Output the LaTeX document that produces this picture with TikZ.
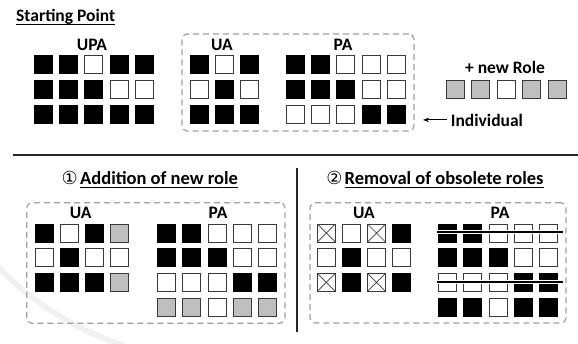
\documentclass[tikz,border=0pt]{standalone}
\usepackage{fontspec}
\setmainfont{Carlito}
\newfontfamily\symfont{DejaVu Sans}
\usetikzlibrary{arrows.meta}
\definecolor{sqline}{HTML}{3A3A3A}
\definecolor{roleGray}{HTML}{BFBFBF}
\definecolor{boxGray}{HTML}{A0A0A0}
\definecolor{markGray}{HTML}{F1F1F1}
% one row of cells: name prefix, first x, y, pitch, cell codes
\newcommand\cellrow[5]{%
  \foreach \c [count=\i] in {#5} {%
    \edef\cellstyle{sq\c}%
    \node[\cellstyle] (#1-\i) at ({#2+(\i-1)*#4},#3) {};}}
\begin{document}
\begin{tikzpicture}[x=1pt,y=-1pt,
  sq/.style={draw=sqline, line width=0.9pt, minimum size=18pt, inner sep=0pt, outer sep=0pt},
  sqB/.style={sq, fill=black, draw=black},
  sqW/.style={sq, fill=white},
  sqG/.style={sq, fill=roleGray},
  sqX/.style={sq, fill=white, path picture={%
    \draw[sqline, line width=0.7pt]
      (path picture bounding box.north west) -- (path picture bounding box.south east)
      (path picture bounding box.north east) -- (path picture bounding box.south west);}},
  dashbox/.style={draw=boxGray, line width=1.2pt, dash pattern=on 6pt off 4pt,
    rounded corners=5pt, inner sep=0pt},
  lbl/.style={font=\bfseries\fontsize{17.5}{17.5}\selectfont, inner sep=0pt},
  ttl/.style={font=\bfseries\fontsize{18.5}{18.5}\selectfont, inner sep=0pt},
  numlbl/.style={font=\symfont\fontsize{18}{18}\selectfont, inner sep=0pt, anchor=base west},
  uline/.style={line width=1pt},
  rule/.style={line width=1.3pt, black!85},
  strike/.style={draw=white, line width=1.6pt, double=black, double distance=1.4pt},
  arr/.style={line width=1pt, -{Stealth[length=6pt,width=4.5pt]}}]
\useasboundingbox (0,0) rectangle (578,343);

% faint background mark
\draw[markGray, line width=6pt] (-5,264) .. controls (30,300) and (70,328) .. (125,346);

% ---------- starting point ----------
\node[lbl, anchor=base west] (start) at (16,21) {Starting Point};
\draw[uline] ([yshift=-3pt]start.base west) -- ([yshift=-3pt]start.base east);

\node[dashbox, minimum width=232pt, minimum height=97pt] (box1) at (298,82.5) {};

\node[lbl, anchor=base] (upa) at (92,50.7) {UPA};
\cellrow{upa1}{43.4}{64.8}{25.2}{B,B,W,B,B}
\cellrow{upa2}{43.4}{89.5}{25.2}{B,B,B,W,W}
\cellrow{upa3}{43.4}{114.2}{25.2}{B,B,B,B,B}

\node[lbl, anchor=base] (ua0) at (222,50.7) {UA};
\cellrow{ua1}{199.7}{64.8}{25}{B,W,B}
\cellrow{ua2}{199.7}{89.5}{25}{W,B,W}
\cellrow{ua3}{199.7}{114.2}{25}{B,B,B}

\node[lbl, anchor=base] (pa0) at (343,50.7) {PA};
\cellrow{pa1}{295}{64.8}{25.4}{B,B,W,W,W}
\cellrow{pa2}{295}{89.5}{25.4}{B,B,B,W,W}
\cellrow{pa3}{295}{114.2}{25.4}{W,W,W,B,B}

\node[lbl, anchor=base] (newrole) at (505,73.3) {+ new Role};
\cellrow{nr}{455}{89.3}{25.6}{G,G,W,G,G}

\node[lbl, anchor=base west] (ind) at (450.7,126) {Individual};
\coordinate (indtip) at (423,121);
\draw[arr] ([xshift=-4pt]ind.west) -- (ind.west -| indtip);

% ---------- separators ----------
\coordinate (hl) at (13.3,155);
\coordinate (hr) at (578,155);
\draw[rule] (hl) -- (hr);
\coordinate (vt) at (297,168);
\coordinate (vb) at (297,332);
\draw[rule] (vt) -- (vb);

% ---------- 1: addition of new role ----------
\node[numlbl] (n1) at (61.5,184.3) {①};
\node[ttl, anchor=base west] (t1) at (80,184.3) {Addition of new role};
\draw[uline] ([yshift=-3pt]t1.base west) -- ([yshift=-3pt]t1.base east);

\node[dashbox, minimum width=258.3pt, minimum height=120.6pt] (box2) at (155.85,263) {};

\node[lbl, anchor=base] (uaA) at (80.7,218.3) {UA};
\cellrow{uaA1}{44}{233}{25.3}{B,W,B,G}
\cellrow{uaA2}{44}{257.7}{25.3}{W,B,W,W}
\cellrow{uaA3}{44}{282.4}{25.3}{B,B,B,G}

\node[lbl, anchor=base] (paA) at (218,218.3) {PA};
\cellrow{paA1}{166.3}{233}{25.4}{B,B,W,W,W}
\cellrow{paA2}{166.3}{257.7}{25.4}{B,B,B,W,W}
\cellrow{paA3}{166.3}{282.4}{25.4}{W,W,W,B,B}
\cellrow{paA4}{166.3}{307.1}{25.4}{G,G,W,G,G}

% ---------- 2: removal of obsolete roles ----------
\node[numlbl] (n2) at (326.2,184.3) {②};
\node[ttl, anchor=base west] (t2) at (344.5,184.3) {Removal of obsolete roles};
\draw[uline] ([yshift=-3pt]t2.base west) -- ([yshift=-3pt]t2.base east);

\node[dashbox, minimum width=256pt, minimum height=120.3pt] (box3) at (438,262.9) {};

\node[lbl, anchor=base] (uaB) at (364,218.3) {UA};
\cellrow{uaB1}{326.3}{233}{25.1}{X,W,X,B}
\cellrow{uaB2}{326.3}{257.7}{25.1}{W,B,W,W}
\cellrow{uaB3}{326.3}{282.4}{25.1}{X,B,X,B}

\node[lbl, anchor=base] (paB) at (500,218.3) {PA};
\cellrow{paB1}{447.3}{233}{25.4}{B,B,W,W,W}
\cellrow{paB2}{447.3}{257.7}{25.4}{B,B,B,W,W}
\cellrow{paB3}{447.3}{282.4}{25.4}{W,W,W,B,B}
\cellrow{paB4}{447.3}{307.1}{25.4}{B,B,W,B,B}

% obsolete roles struck out
\draw[strike] ([xshift=-1.6pt,yshift=1pt]paB1-1.west) -- ([xshift=5pt,yshift=1pt]paB1-5.east);
\draw[strike] ([xshift=-1.6pt,yshift=0.6pt]paB3-1.west) -- ([xshift=5pt,yshift=0.6pt]paB3-5.east);
\end{tikzpicture}
\end{document}
